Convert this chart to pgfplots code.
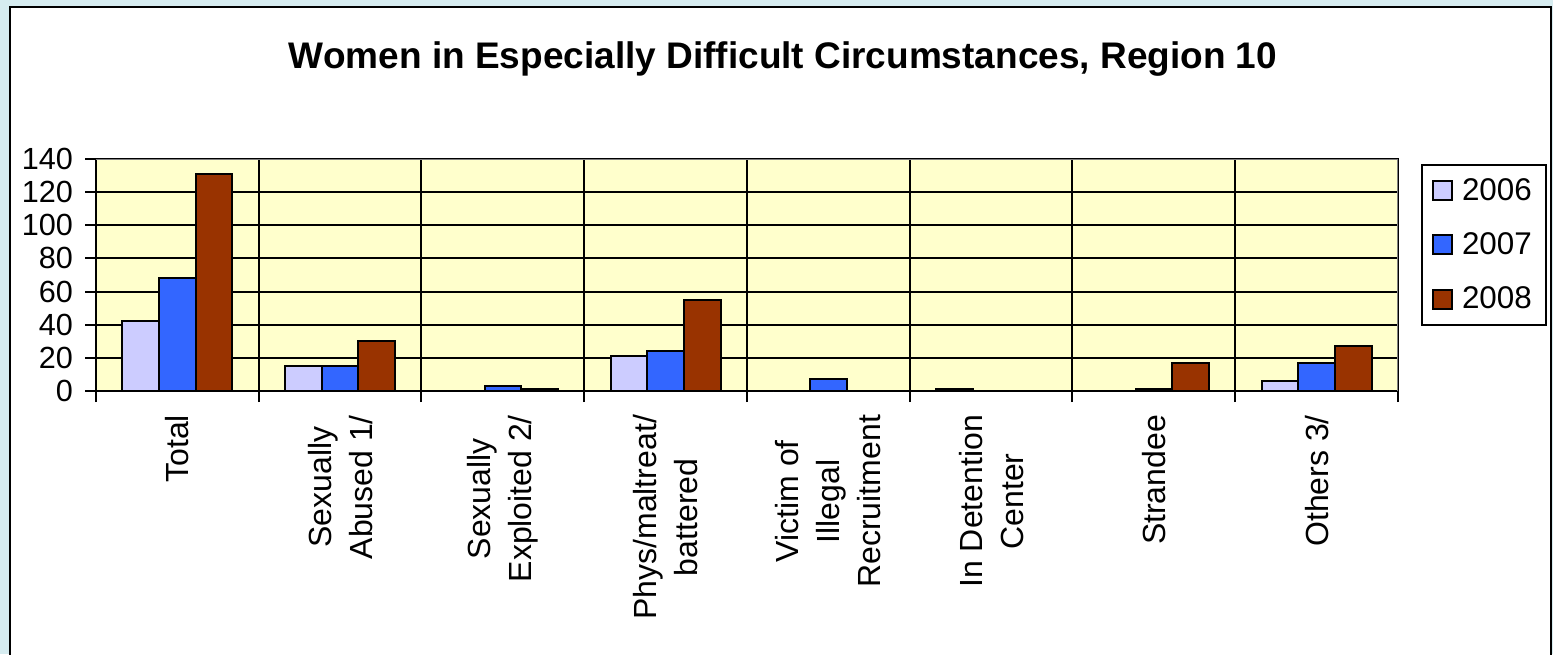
\documentclass[border=0pt]{standalone}
\usepackage{pgfplots}
\pgfplotsset{compat=1.18}
\usepackage{fontspec}
\setmainfont{Liberation Sans}

\definecolor{framebg}{RGB}{214,236,240}
\definecolor{plotbg}{RGB}{255,255,204}
\definecolor{c2006}{RGB}{204,204,255}
\definecolor{c2007}{RGB}{51,102,255}
\definecolor{c2008}{RGB}{153,51,0}

\begin{document}
\begin{tikzpicture}
% outer frame
\fill[framebg] (0,0) rectangle (776.5pt,-327pt);
\filldraw[fill=white, draw=black, line width=1pt] (5pt,-3.5pt) rectangle (775.5pt,-340pt);
\node[font=\bfseries\fontsize{18.5}{21}\selectfont] at (391.5pt,-29.5pt)
  {Women in Especially Difficult Circumstances, Region 10};

\begin{axis}[
    at={(48pt,-195.5pt)}, anchor=south west,
    scale only axis,
    width=651pt, height=116pt,
    xmin=-0.5, xmax=7.5,
    ymin=0, ymax=140,
    ytick={0,20,...,140},
    xtick={0,...,7},
    xticklabels={
        Total,
        {Sexually\\Abused 1/},
        {Sexually\\Exploited 2/},
        {Phys/maltreat/\\battered},
        {Victim of\\Illegal\\Recruitment},
        {In Detention\\Center},
        Strandee,
        {Others 3/}
    },
    minor xtick={-0.5,0.5,...,7.5},
    ymajorgrids=true,
    xminorgrids=true,
    grid style={black, line width=1pt},
    minor grid style={black, line width=1pt},
    axis background/.style={fill=plotbg},
    axis line style={black, line width=1pt},
    tick align=outside,
    xtick pos=left, ytick pos=left,
    major tick length=5.5pt,
    minor tick length=5.5pt,
    tick style={black, line width=1pt},
    major x tick style={draw=none},
    /pgf/number format/assume math mode=true,
    yticklabel style={font=\fontsize{15.3}{18}\selectfont, xshift=-2.5pt},
    xticklabel style={rotate=90, anchor=east, align=center,
        font=\fontsize{16}{20.5}\selectfont, xshift=-3pt},
    ybar=0pt,
    bar width=18.3pt,
    legend image code/.code={\draw[#1] (0pt,-4.75pt) rectangle (9.5pt,4.75pt);
        \path (12pt,0pt);},
    legend style={
        at={(1.0177,0.978)}, anchor=north west,
        draw=black, line width=1pt,
        font=\fontsize{15.7}{18}\selectfont,
        row sep=10.7pt,
        inner xsep=5pt, inner ysep=4.5pt,
    },
    legend cell align=left,
]

\addplot[fill=c2006, draw=black, line width=1pt] coordinates {
    (0,42) (1,15) (2,0) (3,21) (4,0) (5,1) (6,0) (7,6)
};
\addlegendentry{2006}

\addplot[fill=c2007, draw=black, line width=1pt] coordinates {
    (0,68) (1,15) (2,3) (3,24) (4,7) (5,0) (6,1) (7,17)
};
\addlegendentry{2007}

\addplot[fill=c2008, draw=black, line width=1pt] coordinates {
    (0,131) (1,30) (2,1) (3,55) (4,0) (5,0) (6,17) (7,27)
};
\addlegendentry{2008}

% Excel style grey top and right border
\draw[gray, line width=1pt] (rel axis cs:0,1) -- (rel axis cs:1,1) -- (rel axis cs:1,0);
\end{axis}

\pgfresetboundingbox
\path[use as bounding box] (0,0) rectangle (776.5pt,-327pt);
\end{tikzpicture}
\end{document}
